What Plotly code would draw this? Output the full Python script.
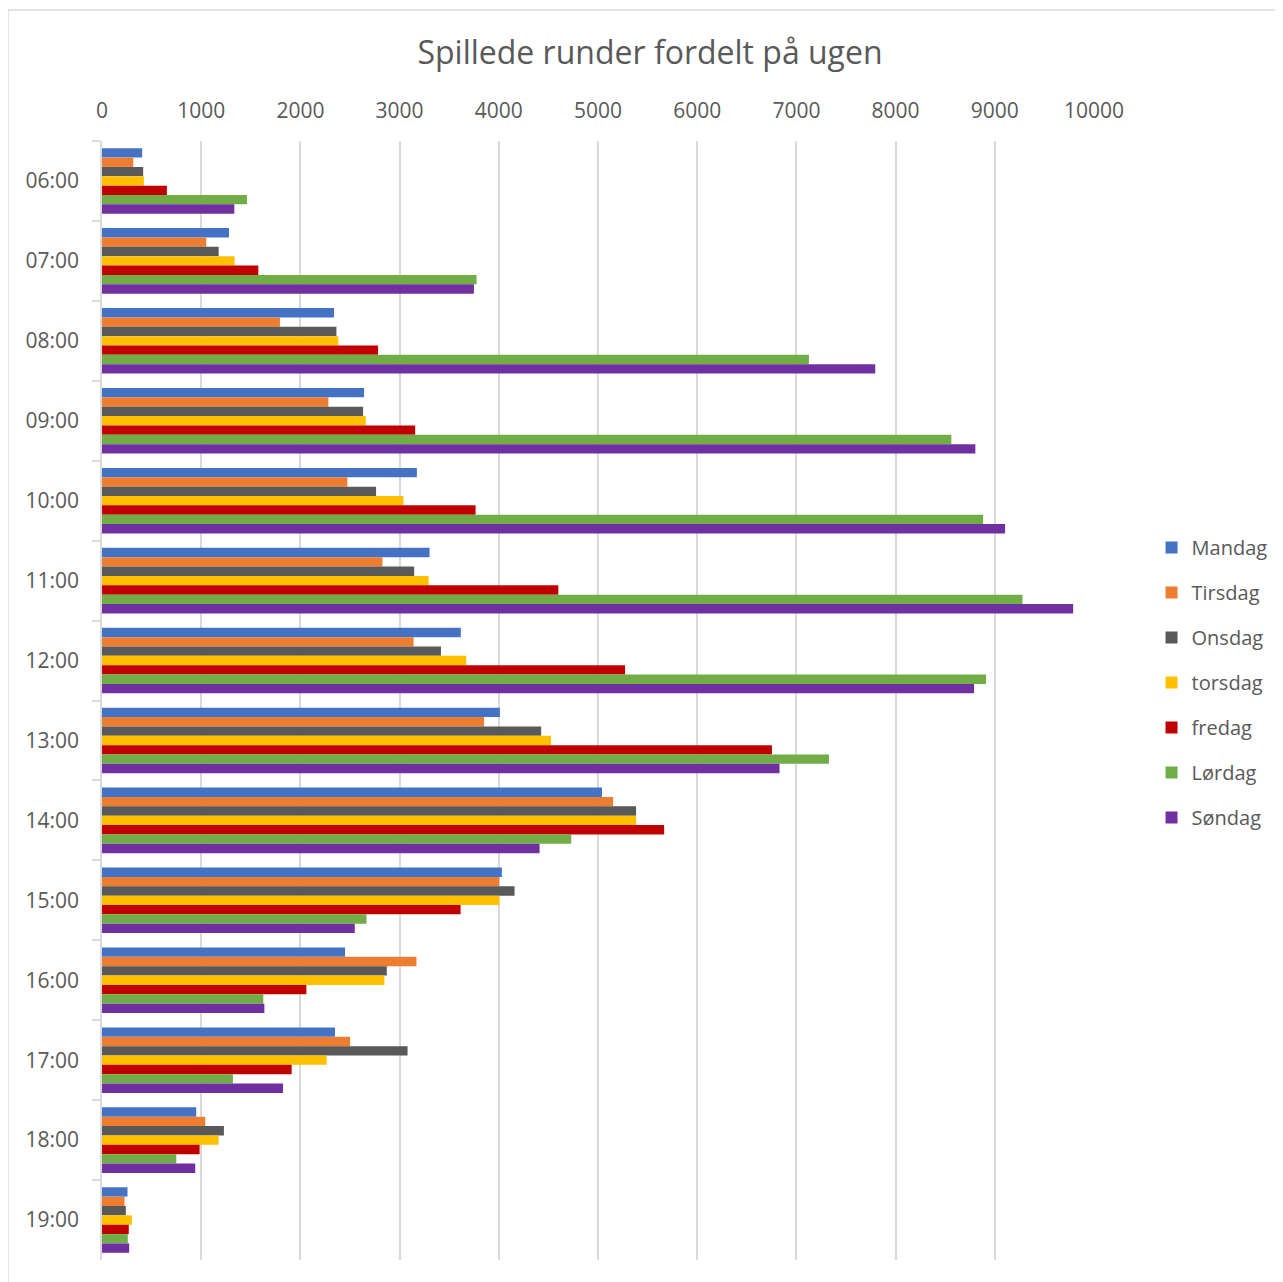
import plotly.graph_objects as go

categories = ["06:00", "07:00", "08:00", "09:00", "10:00", "11:00", "12:00",
              "13:00", "14:00", "15:00", "16:00", "17:00", "18:00", "19:00"]

mandag  = [405, 1280, 2339, 2642, 3174, 3302, 3617, 4011, 5040, 4031, 2450, 2349, 950, 257]
tirsdag = [315, 1051, 1794, 2282, 2474, 2827, 3141, 3852, 5152, 4004, 3170, 2501, 1041, 227]
onsdag  = [415, 1176, 2363, 2632, 2763, 3147, 3417, 4427, 5384, 4159, 2871, 3080, 1229, 240]
torsdag = [422, 1337, 2383, 2659, 3039, 3292, 3672, 4526, 5384, 4004, 2847, 2265, 1176, 301]
fredag  = [654, 1576, 2783, 3157, 3766, 4600, 5273, 6753, 5667, 3615, 2060, 1912, 984, 270]
lordag  = [1461, 3776, 7126, 8562, 8882, 9279, 8912, 7328, 4730, 2666, 1626, 1320, 749, 260]
sondag  = [1334, 3749, 7795, 8804, 9104, 9790, 8791, 6830, 4411, 2548, 1637, 1825, 940, 274]

series_names = ["Mandag", "Tirsdag", "Onsdag", "torsdag", "fredag", "Lørdag", "Søndag"]
series_values = [mandag, tirsdag, onsdag, torsdag, fredag, lordag, sondag]
colors = ["#4472C4", "#ED7D31", "#595959", "#FFC000", "#C00000", "#70AD47", "#7030A0"]

x_ticks = [0, 1000, 2000, 3000, 4000, 5000, 6000, 7000, 8000, 9000, 10000]
x_tick_labels = ["0", "1000", "2000", "3000", "4000", "5000", "6000", "7000", "8000", "9000", "10000"]

FONT = "Open Sans"
TXT = "#595959"
GRID = "#d9d9d9"

fig = go.Figure()
for name, vals, col in zip(series_names, series_values, colors):
    fig.add_trace(go.Bar(
        y=categories, x=vals, name=name, orientation="h",
        marker=dict(color=col, line=dict(width=0)),
        legendgroup=name,
    ))

fig.update_layout(
    width=1283, height=1282,
    margin=dict(l=94, r=197, t=133, b=30),
    paper_bgcolor="white", plot_bgcolor="white",
    barmode="group", bargap=0.18, bargroupgap=0,
    font=dict(family=FONT, color=TXT, size=20),
    title=dict(text="Spillede runder fordelt på ugen", x=642 / 1283, xref="container",
               xanchor="center", y=1 - 45 / 1282, yref="container", yanchor="middle",
               font=dict(family=FONT, size=32, color=TXT)),
    legend=dict(x=1.058, xanchor="left", y=0.516, yanchor="middle",
                traceorder="grouped", tracegroupgap=16,
                font=dict(family=FONT, size=20, color=TXT),
                bgcolor="rgba(0,0,0,0)"),
    xaxis=dict(side="top", range=[0, 10000], tickvals=x_ticks, ticktext=x_tick_labels,
               showgrid=True, gridcolor=GRID, gridwidth=1.5,
               zeroline=False, showline=False, ticks="",
               ticklabelstandoff=18,
               tickfont=dict(family=FONT, size=21, color=TXT)),
    yaxis=dict(autorange="reversed", type="category",
               showline=True, linecolor=GRID, linewidth=1.5,
               ticks="outside", tickson="boundaries", ticklen=8,
               tickcolor=GRID, tickwidth=1.5,
               showgrid=False, zeroline=False,
               ticklabelstandoff=17,
               tickfont=dict(family=FONT, size=21, color=TXT)),
    shapes=[dict(type="rect", xref="paper", yref="paper",
                 x0=-0.0948, x1=1.3, y0=-0.05, y1=1 + (141 - 10) / 1119,
                 line=dict(color=GRID, width=1.5), fillcolor="rgba(0,0,0,0)",
                 layer="below")],
)

fig.write_html("out.html")
